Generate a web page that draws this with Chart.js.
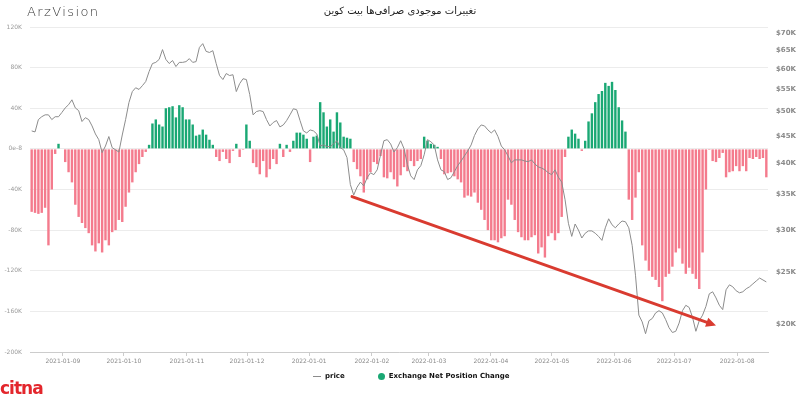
<!DOCTYPE html>
<html>
<head>
<meta charset="utf-8">
<script src="https://cdn.jsdelivr.net/npm/chart.js@4.4.0/dist/chart.umd.min.js"></script>
<style>
  html, body { margin: 0; padding: 0; background: #fff; }
  #wrap { position: relative; width: 800px; height: 394px; overflow: hidden; font-family: 'DejaVu Sans', sans-serif; }
  #chart { position: absolute; left: 0; top: 0; }
  .brand { position: absolute; left: 27px; top: 4px; font-size: 13px; font-weight: 200; letter-spacing: 1.4px; color: #333; }
  .title { position: absolute; left: 0; top: 5px; width: 800px; text-align: center; font-size: 10px; color: #222; }
  .legend { position: absolute; left: 313px; top: 372px; font-size: 7px; font-weight: bold; color: #111; white-space: nowrap; }
  .legend span { display: inline-block; vertical-align: middle; }
  .lg-line { width: 8px; height: 1px; background: #8c8c8c; margin-right: 4px; }
  .lg-dot { width: 7px; height: 7px; border-radius: 50%; background: #1aa874; margin: 0 4px 0 33px; }
  .citna { position: absolute; left: 0; top: 379px; font-size: 17px; font-weight: bold; color: #e3262c; letter-spacing: -1px; line-height: 18px; }
</style>
</head>
<body>
<div id="wrap">
  <canvas id="chart" width="800" height="394"></canvas>
  <div class="brand">ArzVision</div>
  <div class="title" dir="rtl">تغییرات موجودی صرافی‌ها بیت کوین</div>
  <div class="legend"><span class="lg-line"></span><span>price</span><span class="lg-dot"></span><span>Exchange Net Position Change</span></div>
  <div class="citna">citna</div>
</div>
<script>
'use strict';

/* ---- Data ---- */
// x ticks (positions are in bar-index units)
const MONTH_LABELS = ['2021-01-09', '2021-01-10', '2021-01-11', '2021-01-12', '2022-01-01', '2022-01-02',
  '2022-01-03', '2022-01-04', '2022-01-05', '2022-01-06', '2022-01-07', '2022-01-08'];
const MONTH_POS = [9.3, 27.5, 46.3, 64.2, 82.7, 101.4, 118.4, 136.9, 155.1, 173.6, 191.5, 210.3];

const NET_TICKS = [120, 80, 40, 0, -40, -80, -120, -160, -200];
const NET_TICK_LABELS = ['120K', '80K', '40K', '0e-8', '-40K', '-80K', '-120K', '-160K', '-200K'];
const PRICE_TICKS = [20000, 25000, 30000, 35000, 40000, 45000, 50000, 55000, 60000, 65000, 70000];

// exchange net position change (thousands BTC)
const NET_CHANGE = [
  -62, -63, -64, -63, -58, -95, -40, -5, 5, 0, -13, -23, -33, -55, -67, -73, -78, -83, -95, -101,
  -93, -102, -90, -95, -82, -80, -70, -72, -57, -43, -33, -23, -15, -8, -3, 4, 25, 29, 24, 22,
  40, 41, 42, 31, 43, 41, 29, 29, 24, 13, 14, 19, 14, 9, 4, -8, -12, -3, -10, -14,
  -2, 5, -8, -1, 24, 8, -14, -18, -25, -12, -28, -20, -10, -15, 5, -8, 4, -3, 8, 16,
  16, 14, 10, -13, 12, 13, 46, 36, 22, 29, 17, 36, 26, 12, 11, 10, -13, -20, -27, -43,
  -30, -23, -13, -15, -7, -28, -29, -23, -30, -37, -26, -18, -22, -12, -17, -12, -10, 12, 8, 5,
  4, 2, -10, -25, -24, -23, -27, -30, -33, -48, -46, -47, -43, -53, -60, -70, -80, -90, -90, -92,
  -88, -86, -50, -55, -70, -82, -87, -90, -90, -87, -85, -103, -97, -107, -86, -83, -90, -83, -67, -8,
  12, 19, 15, 10, -2, 8, 27, 35, 46, 54, 57, 65, 62, 66, 58, 41, 28, 17, -50, -70,
  -48, -23, -95, -110, -120, -126, -129, -136, -150, -126, -123, -116, -102, -98, -113, -123, -117, -123, -128, -138,
  -102, -40, -1, -12, -13, -9, -4, -28, -23, -22, -17, -22, -17, -22, -9, -10, -8, -10, -9, -28
];

// BTC price (USD)
const PRICE = [
  46000, 45800, 48300, 48900, 49300, 49300, 48300, 48900, 48900, 49800, 50800, 51500, 52600, 50800, 50200, 47900, 48700, 48300, 47000, 45400,
  44300, 41900, 43100, 44900, 42800, 42400, 42000, 45200, 48300, 52000, 54500, 55400, 55000, 55900, 56900, 59400, 61500, 61800, 62600, 65300,
  62600, 61500, 62300, 60700, 61800, 61800, 62000, 62800, 61800, 62000, 65900, 67000, 64800, 64500, 65000, 61500, 58400, 57400, 58900, 58400,
  58600, 54500, 56400, 57600, 57400, 53800, 49300, 50000, 50200, 50000, 48300, 47000, 47700, 48100, 46800, 47200, 48100, 49300, 50600, 50400,
  48100, 46000, 45600, 46200, 46000, 45400, 43100, 43300, 43000, 43000, 43500, 44100, 42800, 42400, 41000, 36500, 34900, 36100, 36900, 36300,
  37600, 38400, 38100, 38900, 41500, 44100, 44300, 43500, 42000, 42800, 44100, 42600, 39800, 37900, 37300, 38900, 39600, 41500, 44300, 43900,
  43300, 40600, 38900, 38600, 37300, 37600, 38600, 39600, 40400, 41300, 42200, 43300, 45100, 46400, 47200, 47000, 46200, 45600, 46200, 44900,
  43100, 42400, 41300, 40100, 40600, 40600, 40600, 40400, 40300, 40600, 39900, 39400, 39200, 38900, 38400, 38100, 38900, 37700, 36900, 34200,
  30900, 29200, 30800, 30000, 29000, 29600, 29900, 29900, 29600, 29200, 28700, 30300, 31500, 30700, 30300, 30800, 31200, 31100, 30300, 28100,
  24700, 20800, 20200, 19200, 20300, 20500, 21000, 21200, 21000, 20400, 19700, 19300, 19400, 20100, 21200, 21700, 21500, 20600, 19400, 20300,
  20800, 21600, 22800, 23000, 22400, 21700, 21300, 23200, 23700, 23500, 23100, 22900, 23000, 23300, 23500, 23800, 24100, 24400, 24200, 24000
];

// red trend arrow, in (bar index, net change K) units
const ARROW_FROM = [95.5, -47];
const ARROW_TO = [204, -174];

/* ---- Styles ---- */
const COLORS = {
  up: '#1aa874',
  down: '#f47b8d',
  price: '#8c8c8c',
  grid: '#ececec',
  axis: '#cccccc',
  tick: '#8a8a8a',
  arrow: '#d93b30',
};
const FONT = "'DejaVu Sans', sans-serif";

const idx = NET_CHANGE.map((_, i) => i);

const arrowPlugin = {
  id: 'trendArrow',
  afterDatasetsDraw(chart) {
    const { ctx, scales } = chart;
    const x1 = scales.x.getPixelForValue(ARROW_FROM[0]);
    const y1 = scales.yNet.getPixelForValue(ARROW_FROM[1]);
    const x2 = scales.x.getPixelForValue(ARROW_TO[0]);
    const y2 = scales.yNet.getPixelForValue(ARROW_TO[1]);
    const ang = Math.atan2(y2 - y1, x2 - x1);
    const head = 11;
    ctx.save();
    ctx.strokeStyle = COLORS.arrow;
    ctx.fillStyle = COLORS.arrow;
    ctx.lineWidth = 3;
    ctx.lineCap = 'round';
    ctx.beginPath();
    ctx.moveTo(x1, y1);
    ctx.lineTo(x2 - Math.cos(ang) * head * 0.8, y2 - Math.sin(ang) * head * 0.8);
    ctx.stroke();
    ctx.beginPath();
    ctx.moveTo(x2, y2);
    ctx.lineTo(x2 - head * Math.cos(ang - 0.45), y2 - head * Math.sin(ang - 0.45));
    ctx.lineTo(x2 - head * Math.cos(ang + 0.45), y2 - head * Math.sin(ang + 0.45));
    ctx.closePath();
    ctx.fill();
    ctx.restore();
  }
};

new Chart(document.getElementById('chart'), {
  data: {
    labels: idx,
    datasets: [
      {
        type: 'line',
        label: 'price',
        data: PRICE,
        yAxisID: 'yPrice',
        borderColor: COLORS.price,
        borderWidth: 1,
        pointRadius: 0,
        tension: 0,
        order: 1,
      },
      {
        type: 'bar',
        label: 'Exchange Net Position Change',
        data: NET_CHANGE,
        yAxisID: 'yNet',
        backgroundColor: ctx => (ctx.raw >= 0 ? COLORS.up : COLORS.down),
        categoryPercentage: 1,
        barPercentage: 0.72,
        order: 2,
      }
    ]
  },
  options: {
    responsive: false,
    animation: false,
    layout: { padding: { top: 27, left: 0, right: 0, bottom: 0 } },
    plugins: { legend: { display: false }, tooltip: { enabled: false } },
    scales: {
      x: {
        type: 'linear',
        offset: false,
        min: -0.5,
        max: NET_CHANGE.length - 0.5,
        afterBuildTicks: s => { s.ticks = MONTH_POS.map(v => ({ value: v })); },
        afterFit: s => { s.height = 42; },
        grid: { offset: false, drawOnChartArea: false, drawTicks: true, tickLength: 4, color: COLORS.axis },
        border: { color: COLORS.axis },
        ticks: {
          autoSkip: false, maxRotation: 0, padding: 2,
          color: COLORS.tick, font: { family: FONT, size: 6 },
          callback: (v, i) => MONTH_LABELS[i],
        },
      },
      yNet: {
        type: 'linear',
        position: 'left',
        min: -200,
        max: 120,
        afterBuildTicks: s => { s.ticks = NET_TICKS.map(v => ({ value: v })); },
        afterFit: s => { s.width = 30; },
        grid: { color: COLORS.grid, drawTicks: false },
        border: { display: false },
        ticks: {
          padding: 8, color: '#9a9a9a', font: { family: FONT, size: 6 },
          callback: v => NET_TICK_LABELS[NET_TICKS.indexOf(v)],
        },
      },
      yPrice: {
        type: 'logarithmic',
        position: 'right',
        min: 17744,
        max: 71980,
        afterBuildTicks: s => { s.ticks = PRICE_TICKS.map(v => ({ value: v })); },
        afterFit: s => { s.width = 32; },
        grid: { drawOnChartArea: false, drawTicks: false },
        border: { display: false },
        ticks: {
          padding: 8, color: '#8a8a8a', font: { family: FONT, size: 7, weight: 'bold' },
          callback: v => '$' + (v / 1000) + 'K',
        },
      },
    }
  },
  plugins: [arrowPlugin]
});
</script>
</body>
</html>
